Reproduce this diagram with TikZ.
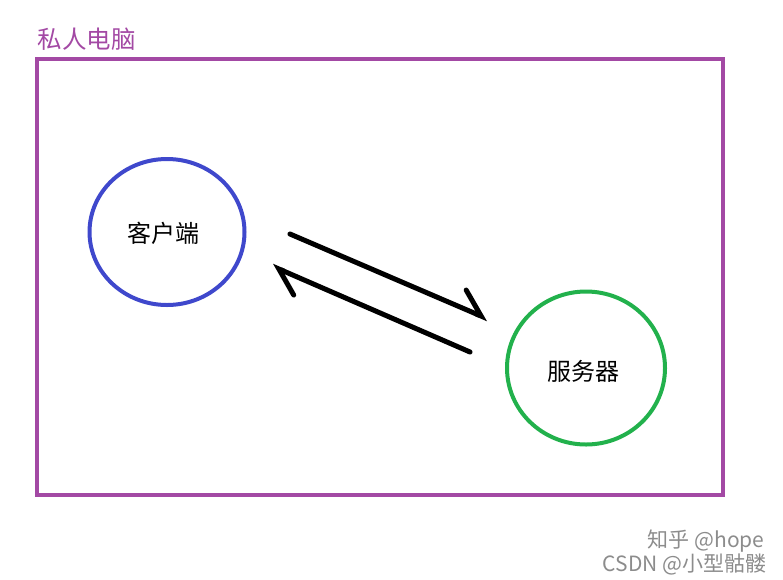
\documentclass[tikz,border=0pt]{standalone}
\usepackage{fontspec}
\setmainfont{Noto Sans CJK SC}
\usetikzlibrary{arrows.meta,shapes.geometric}
\definecolor{paintpurple}{RGB}{163,73,164}
\definecolor{paintblue}{RGB}{63,72,204}
\definecolor{paintgreen}{RGB}{34,177,76}
\begin{document}
\begin{tikzpicture}[x=1pt,y=-1pt,
  roundbox/.style={ellipse,draw,line width=4pt,inner sep=0pt,font=\fontsize{24}{28}\selectfont},
  harpoon/.style={line width=5pt,line cap=round,-{Straight Barb[left,length=24pt,width=36pt,line cap=round]}},
  mark text/.style={text=black!45,font=\fontsize{21}{23}\selectfont}]
\useasboundingbox (0,0) rectangle (783,579);
\draw[paintpurple,line width=4pt] (37,59) rectangle (723,495);
\node[anchor=west,text=paintpurple,font=\fontsize{24.5}{28}\selectfont] (title) at (34,39) {私人电脑};
\node[roundbox,draw=paintblue,minimum width=155pt,minimum height=146pt] (client) at (167,232) {};
\node[font=\fontsize{24}{28}\selectfont] (clientlabel) at (163,233) {客户端};
\node[roundbox,draw=paintgreen,minimum width=158pt,minimum height=153pt] (server) at (586,368) {};
\node[font=\fontsize{24}{28}\selectfont] (serverlabel) at (583,371) {服务器};
% request / reply
\coordinate (reqA) at (290,234);
\coordinate (reqB) at (488,319);
\coordinate (repA) at (470,352);
\coordinate (repB) at (272,266);
\draw[harpoon] (reqA) -- (reqB);
\draw[harpoon] (repA) -- (repB);
% watermark
\node[mark text,anchor=east] (zhihu) at (768,541) {知乎 @hope};
\node[mark text,anchor=east] (csdn) at (770,564) {CSDN @小型骷髅};
\end{tikzpicture}
\end{document}
